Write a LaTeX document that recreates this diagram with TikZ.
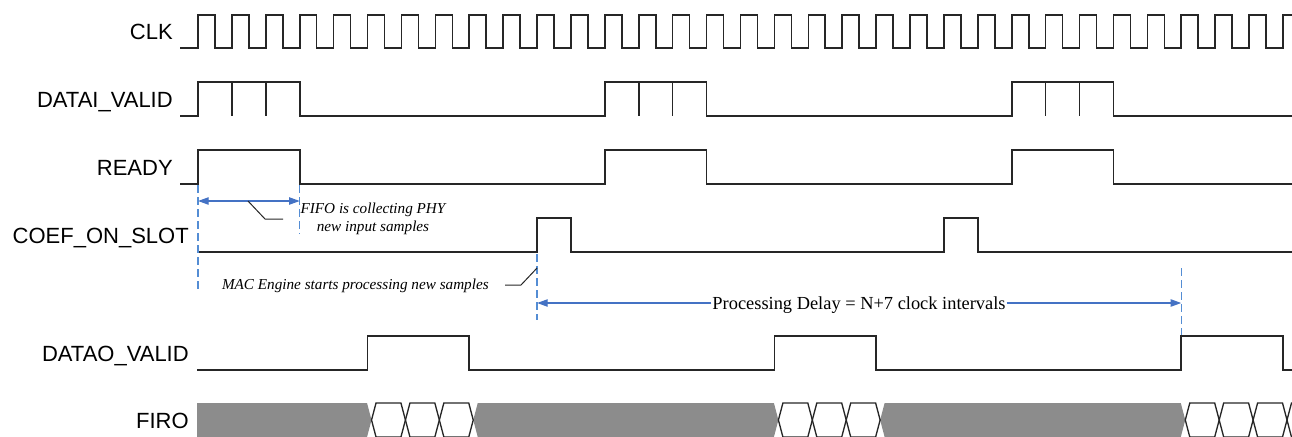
\documentclass[tikz,border=0pt]{standalone}
\usepackage{fontspec}
\setmainfont{Liberation Serif}
\setsansfont{Liberation Sans}
\usetikzlibrary{arrows.meta, positioning}

\definecolor{arrowblue}{RGB}{68,114,196}
\definecolor{guideblue}{RGB}{84,141,212}
\definecolor{busgray}{RGB}{140,140,140}

% clock edge k and bus transition k, in picture units
\newcommand{\tk}[1]{(198+(#1)*33.906)}
\newcommand{\bx}[1]{(202+(#1)*33.906)}

\begin{document}
\begin{tikzpicture}[x=0.75pt, y=-0.75pt,
    signal/.style={line width=1.2pt, draw=black!85},
    bus/.style={line width=1pt, draw=black!85},
    siglabel/.style={anchor=base east, inner sep=0pt, font=\sffamily\fontsize{16.5}{19}\selectfont},
    note/.style={inner sep=0pt, font=\itshape\fontsize{11.4}{13.5}\selectfont},
    guide/.style={draw=guideblue, line width=1.1pt, dash pattern=on 6pt off 3pt},
    dimline/.style={draw=arrowblue, line width=1pt},
    tip/.style={-{Triangle[length=8pt, width=5.5pt]}},
    leader/.style={draw=black!85, line width=0.75pt},
]

\useasboundingbox (0,0) rectangle (1292,436);

% Signal names
\node[siglabel] (lblclk) at (173, 39.5) {CLK};
\node[siglabel] (lbldatai) at (173, 107) {DATAI\_VALID};
\node[siglabel] (lblready) at (173, 175) {READY};
\node[siglabel] (lblcoef) at (189, 243) {COEF\_ON\_SLOT};
\node[siglabel] (lbldatao) at (189, 361) {DATAO\_VALID};
\node[siglabel] (lblfiro) at (189, 428) {FIRO};

% CLK
\draw[signal] (180,48) \foreach \k in {0,...,31} {
    -- ({\tk{\k}},48) -- ({\tk{\k}},15) -- ({\tk{\k+0.5}},15) -- ({\tk{\k+0.5}},48) }
    -- ({\tk{32}},48) -- ({\tk{32}},15) -- (1292,15);

% DATAI_VALID
\draw[signal] (180,116) \foreach \s in {0,12,24} {
    -- ({\tk{\s}},116) -- ({\tk{\s}},82) -- ({\tk{\s+3}},82) -- ({\tk{\s+3}},116) }
    -- (1292,116);
\foreach \s in {0,12,24}
    \foreach \j in {1,2}
        \draw[signal] ({\tk{\s+\j}},82) -- ({\tk{\s+\j}},116);

% READY
\draw[signal] (180,184) \foreach \s in {0,12,24} {
    -- ({\tk{\s}},184) -- ({\tk{\s}},150) -- ({\tk{\s+3}},150) -- ({\tk{\s+3}},184) }
    -- (1292,184);

% COEF_ON_SLOT
\draw[signal] ({\tk{0}},252) \foreach \s in {10,22} {
    -- ({\tk{\s}},252) -- ({\tk{\s}},218) -- ({\tk{\s+1}},218) -- ({\tk{\s+1}},252) }
    -- (1292,252);

% DATAO_VALID
\draw[signal] (197,370) \foreach \s in {5,17,29} {
    -- ({\tk{\s}},370) -- ({\tk{\s}},336) -- ({\tk{\s+3}},336) -- ({\tk{\s+3}},370) }
    -- (1292,370);

% FIRO
\fill[busgray] (197,403) -- ({\bx{5}-4.5},403) -- ({\bx{5}},420) -- ({\bx{5}-4.5},437) -- (197,437) -- cycle;
\foreach \a/\b in {8/17, 20/29}
    \fill[busgray] ({\bx{\a}},420) -- ({\bx{\a}+4.5},403) -- ({\bx{\b}-4.5},403) -- ({\bx{\b}},420)
        -- ({\bx{\b}-4.5},437) -- ({\bx{\a}+4.5},437) -- cycle;
\foreach \k in {5,6,7,17,18,19,29,30,31,32}
    \draw[bus] ({\bx{\k}},420) -- ({\bx{\k}+4.5},403) -- ({\bx{\k+1}-4.5},403) -- ({\bx{\k+1}},420)
        -- ({\bx{\k+1}-4.5},437) -- ({\bx{\k}+4.5},437) -- cycle;

% Guide lines
\coordinate (fifoL) at ({\tk{0}},201);
\coordinate (fifoR) at ({\tk{3}},201);
\coordinate (delayL) at ({\tk{10}},303);
\coordinate (delayR) at ({\tk{29}},303);
\draw[guide] ({\tk{0}},185) -- ({\tk{0}},290);
\draw[guide] ({\tk{3}},185) -- ({\tk{3}},234);
\draw[guide] ({\tk{10}},254) -- ({\tk{10}},320);
\draw[guide] ({\tk{29}},268) -- ({\tk{29}},335);

% FIFO collecting interval
\draw[dimline, {Triangle[length=8pt, width=5.5pt]}-{Triangle[length=8pt, width=5.5pt]}] (fifoL) -- (fifoR);
\draw[leader] (248,201) -- (265,219) -- (283,219);
\node[note, align=center] (fifonote) at (373,219) {FIFO is collecting PHY\\new input samples};

% MAC engine start
\draw[leader] ({\tk{10}},268) -- (521,285) -- (505,285);
\node[note, anchor=base east] (macnote) at (489,289) {MAC Engine starts processing new samples};

% Processing delay
\node[inner sep=0.6pt, anchor=base, font=\fontsize{13.8}{16}\selectfont] (delaytext) at (859,309)
    {Processing Delay = N+7 clock intervals};
\draw[dimline, tip] (delaytext.west |- delayL) -- (delayL);
\draw[dimline, tip] (delaytext.east |- delayR) -- (delayR);

\end{tikzpicture}
\end{document}
